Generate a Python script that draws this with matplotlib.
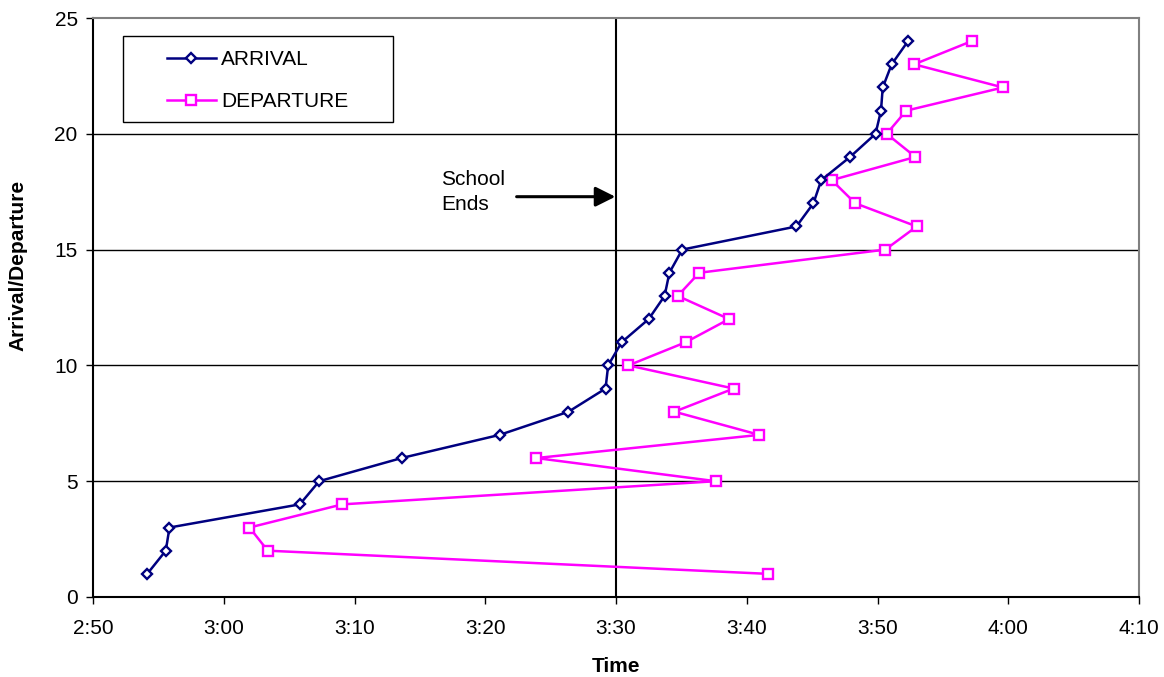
import matplotlib
matplotlib.use("Agg")
import matplotlib.pyplot as plt
from matplotlib.ticker import FixedLocator, FuncFormatter
from matplotlib.patches import Rectangle

plt.rcParams['font.family'] = ['Liberation Sans', 'DejaVu Sans']

# ---- data ----
counts = list(range(1, 25))
arrival_times = ["2:54:09", "2:55:34", "2:55:51", "3:05:49", "3:07:18", "3:13:36",
                 "3:21:06", "3:26:22", "3:29:12", "3:29:24", "3:30:26", "3:32:30",
                 "3:33:43", "3:34:05", "3:35:04", "3:43:48", "3:45:06", "3:45:42",
                 "3:47:54", "3:49:51", "3:50:16", "3:50:24", "3:51:05", "3:52:20"]
departure_times = ["3:41:36", "3:03:22", "3:01:58", "3:09:04", "3:37:38", "3:23:54",
                   "3:40:58", "3:34:28", "3:39:00", "3:30:57", "3:35:20", "3:38:39",
                   "3:34:43", "3:36:22", "3:50:36", "3:53:00", "3:48:18", "3:46:30",
                   "3:52:54", "3:50:42", "3:52:12", "3:59:36", "3:52:48", "3:57:12"]
x_tick_labels = ["2:50", "3:00", "3:10", "3:20", "3:30", "3:40", "3:50", "4:00", "4:10"]
y_ticks = [0, 5, 10, 15, 20, 25]
school_end = "3:30:00"
series_names = ["ARRIVAL", "DEPARTURE"]


def to_min(s):
    parts = [float(p) for p in s.split(":")]
    while len(parts) < 3:
        parts.append(0.0)
    return parts[0] * 60 + parts[1] + parts[2] / 60.0


arr_x = [to_min(t) for t in arrival_times]
dep_x = [to_min(t) for t in departure_times]
xt = [to_min(t) for t in x_tick_labels]
se = to_min(school_end)

FS = 15
W, H = 1164, 677
fig = plt.figure(figsize=(W / 100, H / 100), dpi=100)
ax = fig.add_axes([93 / W, 1 - 597 / H, (1139 - 93) / W, (597 - 18) / H])

ax.set_xlim(xt[0], xt[-1])
ax.set_ylim(0, 25)

for yv in y_ticks[1:-1]:
    ax.axhline(yv, color='black', lw=1.0, zorder=1)
ax.axvline(se, color='black', lw=1.5, zorder=2)

ax.plot(arr_x, counts, color='#000080', lw=1.8, marker='D', ms=5.5,
        mfc='white', mec='#000080', mew=1.7, label=series_names[0], zorder=4)
ax.plot(dep_x, counts, color='#FF00FF', lw=1.8, marker='s', ms=7,
        mfc='white', mec='#FF00FF', mew=1.7, label=series_names[1], zorder=3)

ax.xaxis.set_major_locator(FixedLocator(xt))
ax.xaxis.set_major_formatter(FuncFormatter(lambda v, p: x_tick_labels[xt.index(v)] if v in xt else ""))
ax.set_yticks(y_ticks)
ax.tick_params(axis='both', direction='out', length=5, width=1, labelsize=FS, colors='black')
ax.tick_params(axis='x', pad=11)
ax.tick_params(axis='y', pad=6)

for side in ['top', 'right']:
    ax.spines[side].set_color('#808080')
    ax.spines[side].set_linewidth(1.5)
for side in ['left', 'bottom']:
    ax.spines[side].set_color('black')
    ax.spines[side].set_linewidth(1.5)

ax.set_xlabel("Time", fontsize=FS, fontweight='bold')
ax.xaxis.set_label_coords(0.5, (597 - 657) / 579)
ax.set_ylabel("Arrival/Departure", fontsize=FS, fontweight='bold')
ax.yaxis.set_label_coords((27 - 93) / 1046, (597 - 265) / 579)

# annotation
ya = (597 - 196.7) / (579 / 25)
ax.annotate("", xy=(se - 0.05, ya), xytext=(to_min("3:22:24"), ya),
            arrowprops=dict(arrowstyle='-|>', lw=2.2, color='black', mutation_scale=30,
                            shrinkA=0, shrinkB=0), zorder=5)
ax.text(to_min("3:16:36"), (597 - 192) / (579 / 25), "School\nEnds", fontsize=FS,
        ha='left', va='center', linespacing=1.45)

# legend
fig.patches.append(Rectangle((123 / W, 1 - 122 / H), 270 / W, 86 / H,
                             transform=fig.transFigure, fill=False, ec='black', lw=1.0))
leg = ax.legend(loc='upper left', bbox_to_anchor=(167 / W, 1 - 50 / H),
                bbox_transform=fig.transFigure, frameon=False, fontsize=FS,
                handlelength=2.35, handletextpad=0.25, labelspacing=1.1,
                borderpad=0, borderaxespad=0)

fig.savefig("out.png", dpi=100)
